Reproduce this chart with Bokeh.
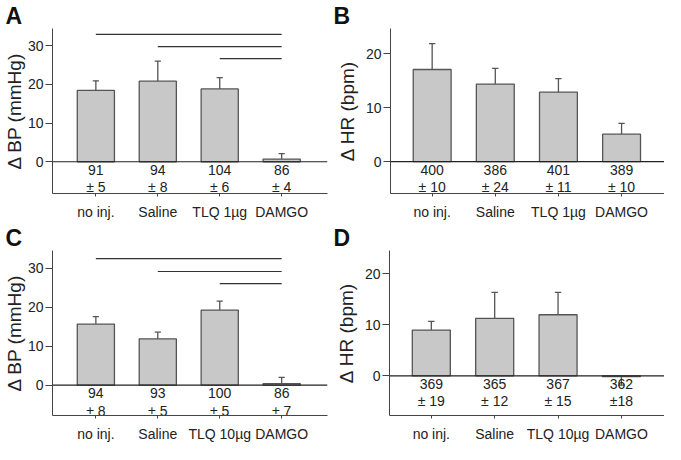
from bokeh.plotting import figure
from bokeh.layouts import column, row
from bokeh.models import Span, FixedTicker, Range1d
from bokeh.embed import file_html
from bokeh.resources import INLINE
from bokeh.core.properties import value

FONT = "Liberation Sans"

categories_top = ["no inj.", "Saline", "TLQ 1µg", "DAMGO"]
categories_bottom = ["no inj.", "Saline", "TLQ 10µg", "DAMGO"]

bp_A = [18.4, 20.8, 18.8, 0.7]
bp_A_err = [2.5, 5.2, 2.9, 1.4]
hr_B = [17.1, 14.4, 12.9, 5.1]
hr_B_err = [4.8, 2.9, 2.5, 2.0]
bp_C = [15.7, 11.9, 19.3, 0.4]
bp_C_err = [1.9, 1.7, 2.3, 1.6]
hr_D = [9.0, 11.3, 12.0, -0.1]
hr_D_err = [1.7, 5.1, 4.4, 1.7]

base_A = ["91", "94", "104", "86"]
sd_A = ["± 5", "± 8", "± 6", "± 4"]
base_B = ["400", "386", "401", "389"]
sd_B = ["± 10", "± 24", "± 11", "± 10"]
base_C = ["94", "93", "100", "86"]
sd_C = ["± 8", "± 5", "± 5", "± 7"]
base_D = ["369", "365", "367", "362"]
sd_D = ["± 19", "± 12", "± 15", "±18"]

sig_from = [0, 1, 2]
sig_to = [3, 3, 3]
sig_A = [32.9, 29.7, 26.6]
sig_C = [32.5, 29.2, 26.1]

BP_TICKS = [0, 10, 20, 30]
HR_TICKS = [0, 10, 20]


def panel(letter, cats, vals, errs, base, sd, ylabel, yr, yticks, xr,
          borders, label_standoff, sig=None):
    left, top, right, bottom = borders
    p = figure(width=332, height=222, output_backend="svg", toolbar_location=None,
               x_range=Range1d(*xr), y_range=Range1d(*yr),
               min_border_left=left, min_border_top=top,
               min_border_right=right, min_border_bottom=bottom)
    p.outline_line_color = None
    p.xgrid.visible = False
    p.ygrid.visible = False
    p.background_fill_color = "white"

    p.title.text = letter
    p.title.text_font = FONT
    p.title.text_font_size = "23px"
    p.title.text_font_style = "bold"
    p.title.text_color = "#111"
    p.title.align = "left"
    p.title.offset = -left + 1
    p.title.standoff = 0

    xs = list(range(len(cats)))
    xa = p.xaxis[0]
    xa.ticker = FixedTicker(ticks=xs)
    xa.major_label_overrides = {i: c for i, c in enumerate(cats)}
    xa.major_tick_in = 0
    xa.major_tick_out = 3
    xa.minor_tick_line_color = None
    xa.axis_line_color = "#444"
    xa.major_tick_line_color = "#444"
    xa.major_label_text_font = FONT
    xa.major_label_text_font_size = "14px"
    xa.major_label_text_color = "#222"
    xa.major_label_standoff = 7

    ya = p.yaxis[0]
    ya.ticker = FixedTicker(ticks=yticks)
    ya.major_tick_in = 0
    ya.major_tick_out = 7
    ya.minor_tick_line_color = None
    ya.axis_line_color = "#444"
    ya.major_tick_line_color = "#444"
    ya.major_label_text_font = FONT
    ya.major_label_text_font_size = "14px"
    ya.major_label_text_color = "#222"
    ya.major_label_standoff = 2
    ya.axis_label = ylabel
    ya.axis_label_text_font = FONT
    ya.axis_label_text_font_size = "19px"
    ya.axis_label_text_font_style = "normal"
    ya.axis_label_text_color = "#222"
    ya.axis_label_standoff = label_standoff

    p.vbar(x=xs, top=vals, bottom=0, width=0.6, fill_color="#c8c8c8",
           line_color="#555", line_width=1.3)
    ends = [v + e if v >= 0 else v - e for v, e in zip(vals, errs)]
    p.segment(x0=xs, x1=xs, y0=vals, y1=ends, line_color="#555", line_width=1.3)
    p.segment(x0=[x - 0.05 for x in xs], x1=[x + 0.05 for x in xs], y0=ends, y1=ends,
              line_color="#555", line_width=1.3)

    p.add_layout(Span(location=0, dimension="width", line_color="#222", line_width=1.2))

    if sig is not None:
        p.segment(x0=sig_from, x1=sig_to, y0=sig, y1=sig, line_color="#333", line_width=1.2)

    p.text(x=xs, y=[0] * len(xs), text=base, text_align="center", text_baseline="top",
           y_offset=3, text_font=value(FONT), text_font_size="14px", text_color="#222")
    p.text(x=xs, y=[0] * len(xs), text=sd, text_align="center", text_baseline="top",
           y_offset=17.5, text_font=value(FONT), text_font_size="14px", text_color="#222")
    return p


pA = panel("A", categories_top, bp_A, bp_A_err, base_A, sd_A, "Δ BP (mmHg)",
           (-8.2, 34.4), BP_TICKS, (-0.70, 3.74), (48, 25, 5, 28), 0, sig_A)
pB = panel("B", categories_top, hr_B, hr_B_err, base_B, sd_B, "Δ HR (bpm)",
           (-5.9, 24.7), HR_TICKS, (-0.66, 3.68), (58, 25, 0, 28), 5)
pC = panel("C", categories_bottom, bp_C, bp_C_err, base_C, sd_C, "Δ BP (mmHg)",
           (-7.8, 34.6), BP_TICKS, (-0.70, 3.74), (48, 24, 5, 28), 0, sig_C)
pD = panel("D", categories_bottom, hr_D, hr_D_err, base_D, sd_D, "Δ HR (bpm)",
           (-7.75, 24.6), HR_TICKS, (-0.66, 3.68), (57, 24, 0, 28), 5)

layout = column(row(pA, pB), row(pC, pD))
open("out.html", "w").write(file_html(layout, INLINE))
